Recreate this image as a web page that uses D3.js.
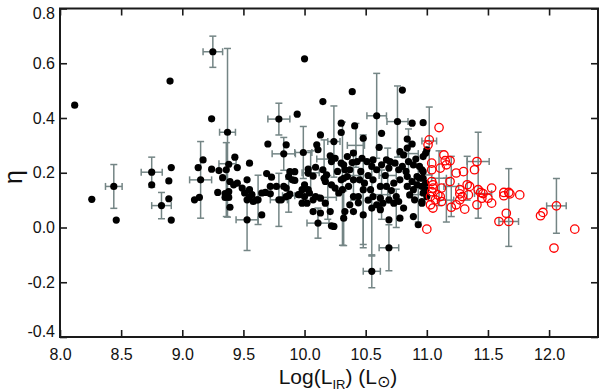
<!DOCTYPE html>
<html>
<head>
<meta charset="utf-8">
<script src="https://cdn.jsdelivr.net/npm/d3@7"></script>
<style>
  body { margin: 0; background: #fff; }
  svg { display: block; }
  text { font-family: "Liberation Sans", Arial, sans-serif; }
</style>
</head>
<body>
<svg id="chart" width="600" height="391"></svg>
<script>
// ---------------- data ----------------
const xTicks = [8.0, 8.5, 9.0, 9.5, 10.0, 10.5, 11.0, 11.5, 12.0];
const yTicks = [-0.4, -0.2, 0.0, 0.2, 0.4, 0.6, 0.8];

// black filled points [log L_IR, eta]
const blackPoints = [
  [8.12,0.447],[8.26,0.103],[8.44,0.150],[8.46,0.027],[8.75,0.202],[8.75,0.156],[8.83,0.080],
  [8.89,0.105],[8.89,0.170],[8.90,0.535],[8.91,0.219],[8.91,0.027],
  [9.10,0.101],[9.14,0.110],[9.15,0.174],[9.13,0.219],[9.17,0.247],[9.24,0.397],[9.25,0.642],
  [9.24,0.213],[9.29,0.128],[9.30,0.208],[9.33,0.182],[9.36,0.211],[9.37,0.348],[9.38,0.231],
  [9.43,0.257],[9.45,0.219],[9.39,0.168],[9.42,0.156],[9.45,0.162],[9.35,0.124],[9.38,0.131],
  [9.35,0.110],[9.38,0.110],[9.39,0.074],[9.55,0.235],[9.53,0.174],[9.49,0.144],[9.55,0.138],
  [9.51,0.126],[9.57,0.120],[9.53,0.101],[9.58,0.095],[9.61,0.101],[9.53,0.028],[9.55,0.113],
  [9.65,0.126],[9.62,0.101],[9.65,0.046],[9.68,0.128],[9.69,0.197],[9.70,0.305],[9.72,0.150],
  [9.73,0.184],[9.72,0.123],[9.77,0.150],[9.79,0.101],[9.79,0.396],[9.81,0.101],[9.83,0.150],
  [9.85,0.113],[9.83,0.269],[9.85,0.302],[9.87,0.186],[9.88,0.204],[9.90,0.174],[9.92,0.204],
  [9.92,0.172],[9.85,0.144],[9.87,0.116],[9.88,0.122],[9.94,0.414],[9.95,0.120],[9.98,0.138],
  [9.96,0.120],[9.99,0.274],[10.00,0.156],[10.03,0.138],[10.00,0.113],[10.02,0.089],[9.98,0.089],
  [10.00,0.616],[10.04,0.126],[10.07,0.101],[10.09,0.113],[10.13,0.107],[10.17,0.089],[10.07,0.058],
  [10.13,0.053],[10.11,0.016],[10.22,0.006],[10.21,0.058],[10.03,0.198],[10.07,0.188],[10.03,0.213],
  [10.09,0.220],[10.15,0.211],[10.10,0.302],[10.11,0.284],[10.13,0.338],[10.15,0.460],[10.21,0.262],
  [10.22,0.241],[10.25,0.253],[10.30,0.235],[10.24,0.314],[10.28,0.126],[10.25,0.144],[10.22,0.156],
  [10.17,0.168],[10.16,0.180],[10.18,0.192],[10.32,0.180],[10.31,0.138],[10.30,0.381],[10.30,0.347],
  [10.24,0.004],[10.32,0.034],[10.40,0.058],[10.48,0.046],
  [10.39,0.496],[10.59,0.408],[10.76,0.387],[10.80,0.502],[10.88,0.381],[10.97,0.383],[10.41,0.371],
  [10.48,0.326],[10.63,0.344],[10.61,0.293],[10.84,0.323],[10.88,0.305],[10.78,0.277],[10.81,0.265],
  [10.84,0.290],[10.40,0.272],[10.35,0.259],[10.47,0.253],[10.51,0.241],[10.43,0.241],[10.39,0.237],
  [10.32,0.229],[10.56,0.247],[10.55,0.223],[10.59,0.211],[10.63,0.229],[10.67,0.247],[10.70,0.241],
  [10.69,0.217],[10.74,0.235],[10.77,0.211],[10.80,0.223],[10.85,0.241],[10.89,0.229],[10.94,0.223],
  [10.97,0.204],[10.94,0.180],[10.92,0.156],[10.89,0.138],[10.86,0.119],[10.90,0.101],[10.96,0.095],
  [10.33,0.211],[10.37,0.211],[10.35,0.186],[10.30,0.174],[10.40,0.174],[10.45,0.174],[10.49,0.162],
  [10.48,0.138],[10.44,0.113],[10.40,0.113],[10.37,0.083],[10.33,0.058],[10.54,0.138],[10.56,0.113],
  [10.62,0.107],[10.64,0.089],[10.59,0.083],[10.55,0.071],[10.62,0.065],[10.69,0.101],[10.73,0.089],
  [10.77,0.095],[10.81,0.071],[10.75,0.113],[10.84,0.150],[10.88,0.168],[10.92,0.186],[10.84,0.186],
  [10.78,0.174],[10.73,0.162],[10.67,0.150],[10.62,0.150],[10.56,0.174],[10.89,0.040],[10.93,0.010],
  [10.69,0.028],[10.78,0.034],[10.69,-0.074],[10.55,-0.160],[10.99,0.162],[10.99,0.138],[11.00,0.113],
  [10.97,0.259],[11.00,0.284],[10.99,0.271],[10.96,0.211],[10.97,0.180],[10.96,0.150],[10.97,0.126],
  [10.96,0.089],[10.27,0.205],[10.36,0.150],[10.46,0.205],[10.52,0.190],[10.66,0.190],[10.71,0.135],
  [10.83,0.205],[10.91,0.250],[10.52,0.100],[10.44,0.090]
];

// red open circles [log L_IR, eta]
const redPoints = [
  [11.10,0.365],[11.02,0.320],[11.01,0.302],[11.14,0.265],[11.15,0.244],[11.19,0.244],[11.16,0.229],
  [11.04,0.235],[11.04,0.211],[11.11,0.217],[11.04,0.168],[11.05,0.156],[11.04,0.131],[11.24,0.199],
  [11.30,0.204],[11.39,0.211],[11.41,0.241],[11.19,0.168],[11.12,0.144],[11.09,0.119],[11.07,0.101],
  [11.03,0.113],[11.05,0.071],[11.33,0.156],[11.35,0.150],[11.27,0.138],[11.29,0.113],[11.27,0.101],
  [11.20,0.074],[11.24,0.083],[11.31,0.067],[11.34,0.119],[11.42,0.138],[11.44,0.128],[11.45,0.107],
  [11.41,0.083],[11.50,0.107],[11.53,0.089],[11.53,0.144],[11.63,0.116],[11.67,0.128],[11.59,0.022],
  [11.67,0.022],[11.00,-0.006],[11.05,0.144],[11.27,0.123],[11.46,0.124],[11.63,0.128],[11.68,0.123],
  [11.76,0.119],[11.65,0.052],[11.93,0.043],[11.95,0.055],[12.06,0.079],[12.21,-0.006],[12.04,-0.075],
  [11.11,0.113],[11.12,0.095],[11.03,0.083]
];

// gray error bars [x, y, xErr, yErrLow, yErrHigh]
const errorBars = [
  [8.44,0.150,0.068,0.08,0.08],[8.75,0.202,0.086,0.055,0.055],[8.83,0.080,0.08,0.048,0.048],
  [9.15,0.174,0.09,0.14,0.14],[9.25,0.642,0.08,0.057,0.057],[9.37,0.348,0.065,0.31,0.306],
  [9.37,0.233,0.07,0,0],[9.36,0.175,0,0.135,0.135],[9.53,0.028,0.09,0.112,0.112],
  [9.62,0.101,0,0.09,0.09],[9.79,0.396,0.09,0.058,0.058],[9.79,0.101,0.07,0.097,0.097],
  [9.83,0.269,0.095,0.06,0.06],[9.87,0.116,0.05,0.06,0.06],[9.99,0.274,0.07,0.095,0.095],
  [10.11,0.016,0.09,0.055,0.055],[10.24,0.314,0.05,0.13,0.13],[10.31,0.16,0,0.225,0.225],
  [10.48,0.138,0,0.2,0.2],[10.59,0.408,0.08,0.155,0.155],[10.76,0.387,0.086,0.13,0.13],
  [10.55,0.071,0,0.175,0.175],[10.55,-0.160,0.07,0.06,0.06],[10.69,-0.074,0.08,0.084,0.084],
  [10.32,0.034,0,0.1,0.1],[10.48,0.046,0,0.12,0.12],[10.05,0.20,0.07,0.08,0.08],
  [10.16,0.25,0.06,0.07,0.07],[10.42,0.30,0.07,0.08,0.08],[10.68,0.19,0.07,0.1,0.1],
  [10.85,0.27,0.08,0.09,0.09],[10.93,0.12,0.07,0.1,0.1],[10.63,0.12,0.07,0.09,0.09],
  [10.40,0.19,0.06,0.09,0.09],[10.19,0.11,0.07,0.08,0.08],[10.75,0.07,0,0.07,0.07],
  [11.02,0.316,0.06,0.124,0.124],[11.42,0.241,0.09,0.207,0.107],[11.67,0.022,0.08,0.091,0.193],
  [12.06,0.079,0.08,0.1,0.1],[11.10,0.18,0.06,0.1,0.1],[11.33,0.18,0,0.08,0.08],
  [11.20,0.15,0.06,0.11,0.11],[11.46,0.124,0.07,0,0],[11.16,0.10,0.06,0.08,0.08]
];

// ---------------- drawing ----------------
const svg = d3.select("#chart");
const W = 600, H = 391;
const mLeft = 60, mRight = 598, mTop = 8.5, mBottom = 337;

const x = d3.scaleLinear().domain([8, 12.4]).range([mLeft, mRight]);
const y = d3.scaleLinear().domain([-0.4, 0.8]).range([mBottom, mTop]);

svg.append("rect").attr("width", W).attr("height", H).attr("fill", "#fff");

const fmt = d => d.toFixed(1);
const axisColor = "#1a1a1a";

const gx = svg.append("g").attr("transform", `translate(0,${mBottom})`)
  .call(d3.axisBottom(x).tickValues(xTicks).tickFormat(fmt)
        .tickSizeInner(-7).tickSizeOuter(0).tickPadding(12));
const gxt = svg.append("g").attr("transform", `translate(0,${mTop})`)
  .call(d3.axisTop(x).tickValues(xTicks).tickFormat("")
        .tickSizeInner(-7).tickSizeOuter(0));
const gy = svg.append("g").attr("transform", `translate(${mLeft},0)`)
  .call(d3.axisLeft(y).tickValues(yTicks).tickFormat(fmt)
        .tickSizeInner(-7).tickSizeOuter(0).tickPadding(5));
const gyr = svg.append("g").attr("transform", `translate(${mRight},0)`)
  .call(d3.axisRight(y).tickValues(yTicks).tickFormat("")
        .tickSizeInner(-7).tickSizeOuter(0));

[gx, gxt, gy, gyr].forEach(g => {
  g.select(".domain").remove();
  g.selectAll(".tick line").attr("stroke", axisColor).attr("stroke-width", 1.6);
  g.selectAll("text").attr("fill", "#111").style("font-size", "16px")
    .style("font-family", '"Liberation Sans", Arial, sans-serif');
});
gy.selectAll(".tick text").attr("dy", d => d === 0.8 ? "0.62em" : d === -0.4 ? "-0.02em" : "0.32em");

// error bars
const eb = svg.append("g").attr("stroke", "#748585").attr("stroke-width", 1.5).attr("fill", "none");
const cap = 3.5;
errorBars.forEach(([cx, cy, dx, dlo, dhi]) => {
  const px = x(cx), py = y(cy);
  if (dlo > 0 || dhi > 0) {
    const y1 = y(cy + dhi), y2 = y(cy - dlo);
    eb.append("line").attr("x1", px).attr("x2", px).attr("y1", y1).attr("y2", y2);
    eb.append("line").attr("x1", px - cap).attr("x2", px + cap).attr("y1", y1).attr("y2", y1);
    eb.append("line").attr("x1", px - cap).attr("x2", px + cap).attr("y1", y2).attr("y2", y2);
  }
  if (dx > 0) {
    const x1 = x(cx - dx), x2 = x(cx + dx);
    eb.append("line").attr("x1", x1).attr("x2", x2).attr("y1", py).attr("y2", py);
    eb.append("line").attr("x1", x1).attr("x2", x1).attr("y1", py - cap).attr("y2", py + cap);
    eb.append("line").attr("x1", x2).attr("x2", x2).attr("y1", py - cap).attr("y2", py + cap);
  }
});

svg.append("g").selectAll("circle").data(blackPoints).join("circle")
  .attr("cx", d => x(d[0])).attr("cy", d => y(d[1])).attr("r", 3.6).attr("fill", "#000");

svg.append("g").selectAll("circle").data(redPoints).join("circle")
  .attr("cx", d => x(d[0])).attr("cy", d => y(d[1])).attr("r", 4.2)
  .attr("fill", "none").attr("stroke", "#f00").attr("stroke-width", 1.3);

svg.append("rect").attr("x", mLeft).attr("y", mTop).attr("width", mRight - mLeft).attr("height", mBottom - mTop)
  .attr("fill", "none").attr("stroke", axisColor).attr("stroke-width", 2);

const xt = svg.append("text").attr("x", 338).attr("y", 384).attr("text-anchor", "middle")
  .style("font-size", "21px").attr("fill", "#111");
xt.append("tspan").text("Log(L");
xt.append("tspan").attr("dy", 5).style("font-size", "13px").text("IR");
xt.append("tspan").attr("dy", -5).text(") (L");
xt.append("tspan").attr("dy", 3).style("font-size", "16px").style("font-family", '"DejaVu Sans", sans-serif').text("\u2299");
xt.append("tspan").attr("dy", -3).text(")");

svg.append("text").attr("transform", "translate(22,177) rotate(-90)")
  .attr("text-anchor", "middle").style("font-size", "25px").attr("fill", "#111").text("η");
</script>
</body>
</html>
